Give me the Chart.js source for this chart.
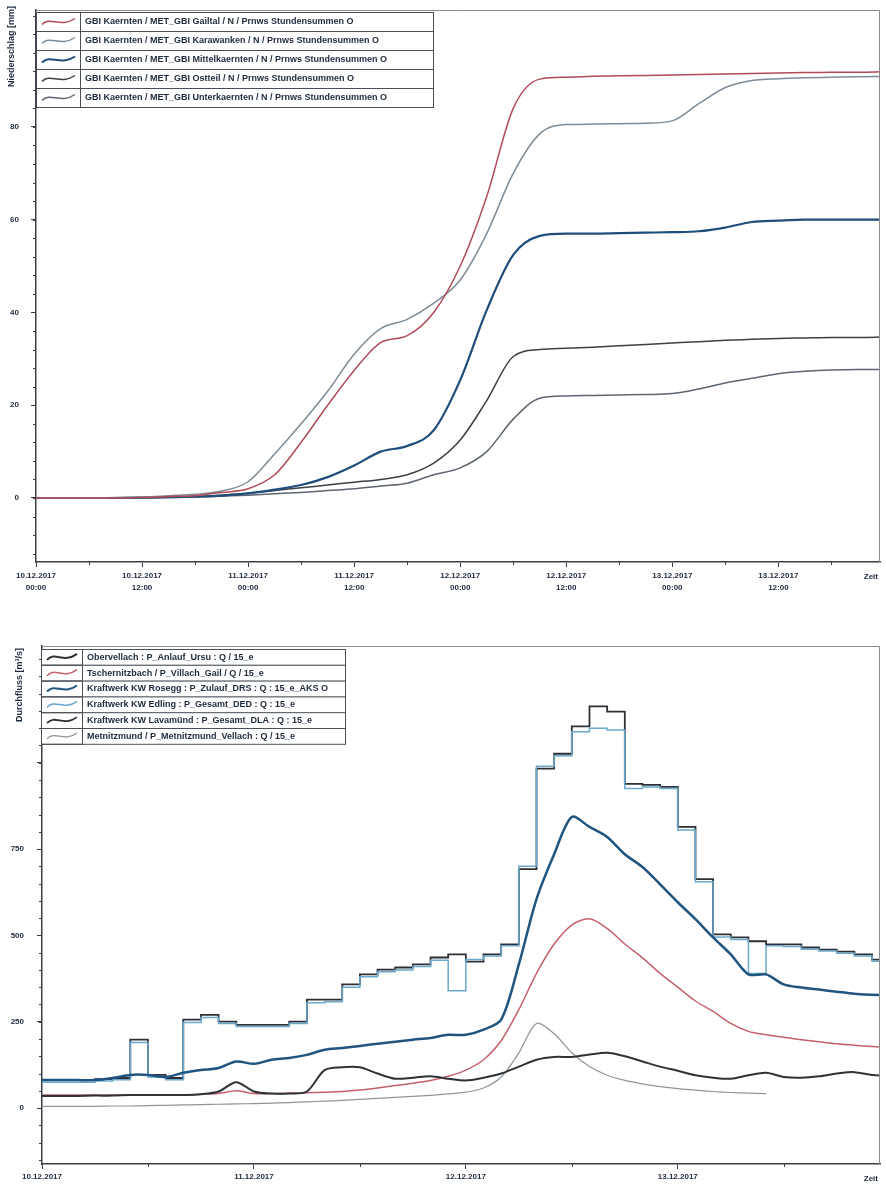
<!DOCTYPE html>
<html lang="de">
<head>
  <meta charset="UTF-8" />
  <title>Niederschlag und Durchfluss Kärnten</title>
  <script src="https://cdn.jsdelivr.net/npm/chart.js"></script>
  <style>
    body {
      margin: 0;
      background: #fff;
      font-family: 'Liberation Sans', Arial, sans-serif;
    }
    .panel {
      position: relative;
      width: 886px;
    }
    #topPanel { height: 605px; }
    #bottomPanel { height: 584px; }
  </style>
</head>
<body>
  <div class="panel" id="topPanel"><canvas id="precipChart"></canvas></div>
  <div class="panel" id="bottomPanel"><canvas id="flowChart"></canvas></div>

  <script>
    // ---- Niederschlag (kumulierte Stundensummen), Stunden ab 10.12.2017 00:00
    const precipHours = [0, 3, 6, 9, 12, 15, 18, 21, 24, 27, 30, 33, 36, 39, 42, 45, 48,
      51, 54, 57, 60, 63, 66, 69, 72, 75, 78, 81, 84, 87, 90, 93, 96];
    const gailtal = [0, 0, 0, 0, 0.1, 0.3, 0.5, 1.2, 2, 5, 12, 20, 27.5, 33.5, 35, 40, 50,
      65, 84, 90.3, 90.7, 90.9, 91, 91.1, 91.2, 91.3, 91.4, 91.5, 91.6, 91.7, 91.8, 91.8, 91.9];
    const karawanken = [0, 0, 0, 0.1, 0.2, 0.5, 0.8, 1.5, 3.5, 9.5, 16, 23, 31, 36.5, 38.5, 42, 47,
      57, 70, 78.5, 80.5, 80.6, 80.7, 80.8, 81.3, 85, 88.5, 90, 90.4, 90.6, 90.7, 90.8, 90.9];
    const mittelkaernten = [0, 0, 0, 0, 0.1, 0.2, 0.3, 0.5, 1, 1.8, 2.8, 4.5, 7, 10, 11.2, 14.6, 25.4,
      40.5, 52.4, 56.5, 57, 57, 57.1, 57.2, 57.3, 57.5, 58.3, 59.5, 59.8, 60, 60, 60, 60];
    const ostteil = [0, 0, 0, 0, 0.1, 0.2, 0.3, 0.6, 1, 1.6, 2.2, 2.8, 3.4, 4, 5, 7.5, 12.5,
      21, 30.5, 32, 32.3, 32.5, 32.8, 33.1, 33.4, 33.7, 34, 34.2, 34.4, 34.5, 34.6, 34.6, 34.7];
    const unterkaernten = [0, 0, 0, 0, 0, 0.1, 0.2, 0.4, 0.6, 0.9, 1.2, 1.6, 2, 2.6, 3.2, 5, 6.5,
      10, 17, 21.5, 22, 22.1, 22.2, 22.3, 22.5, 23.5, 24.8, 25.8, 26.8, 27.3, 27.6, 27.7, 27.7];

    const precipLabels = [
      'GBI Kaernten / MET_GBI Gailtal / N / Prnws Stundensummen O',
      'GBI Kaernten / MET_GBI Karawanken / N / Prnws Stundensummen O',
      'GBI Kaernten / MET_GBI Mittelkaernten / N / Prnws Stundensummen O',
      'GBI Kaernten / MET_GBI Ostteil / N / Prnws Stundensummen O',
      'GBI Kaernten / MET_GBI Unterkaernten / N / Prnws Stundensummen O'
    ];
    const precipYTicks = [0, 20, 40, 60, 80];
    const precipXTicks = [0, 12, 24, 36, 48, 60, 72, 84];
    const precipXTickLabels = [
      ['10.12.2017', '00:00'], ['10.12.2017', '12:00'], ['11.12.2017', '00:00'], ['11.12.2017', '12:00'],
      ['12.12.2017', '00:00'], ['12.12.2017', '12:00'], ['13.12.2017', '00:00'], ['13.12.2017', '12:00']
    ];

    // ---- Durchfluss Q, Stunden ab 10.12.2017 00:00
    const flowHours = [0, 2, 4, 6, 8, 10, 12, 14, 16, 18, 20, 22, 24, 26, 28, 30, 32, 34, 36, 38,
      40, 42, 44, 46, 48, 50, 52, 54, 56, 58, 60, 62, 64, 66, 68, 70, 72, 74, 76, 78,
      80, 82, 84, 86, 88, 90, 92, 94, 96];
    const obervellach = [35, 35, 35, 36, 36, 38, 38, 38, 38, 40, 48, 75, 48, 42, 42, 48, 110, 118, 118, 100,
      85, 88, 92, 85, 80, 88, 100, 120, 140, 148, 148, 155, 160, 150, 135, 120, 108, 95, 88, 85,
      95, 102, 90, 88, 92, 100, 104, 96, 92];
    const tschernitz = [38, 38, 38, 38, 38, 38, 38, 38, 38, 40, 42, 50, 42, 42, 43, 44, 46, 48, 52, 58,
      65, 72, 80, 92, 110, 140, 195, 285, 390, 475, 530, 548, 520, 475, 435, 390, 350, 310, 280, 245,
      222, 212, 205, 198, 192, 186, 182, 178, 175];
    const rosegg = [81, 81, 81, 81, 87, 96, 96, 90, 102, 110, 116, 135, 128, 140, 145, 154, 169, 174, 180, 186,
      192, 198, 203, 212, 212, 227, 256, 416, 605, 735, 843, 814, 785, 735, 698, 648, 596, 547, 494, 445,
      387, 387, 358, 349, 343, 337, 331, 328, 326];
    const edling = [75, 75, 75, 78, 82, 190, 90, 82, 248, 262, 245, 236, 236, 236, 245, 305, 308, 350, 380, 395,
      400, 410, 428, 340, 430, 440, 470, 700, 990, 1020, 1090, 1100, 1095, 925, 930, 925, 805, 655, 495, 488,
      390, 470, 468, 460, 455, 448, 440, 425, 420];
    const lavamuend = [81, 81, 81, 84, 87, 198, 96, 87, 256, 270, 250, 241, 241, 241, 250, 314, 314, 358, 387, 401,
      407, 416, 436, 445, 424, 445, 474, 692, 983, 1026, 1105, 1163, 1148, 939, 936, 930, 814, 663, 503, 494,
      483, 474, 474, 465, 459, 453, 445, 430, 424];
    const metnitz = [5, 5, 5, 5, 6, 6, 7, 8, 9, 10, 11, 12, 13, 14, 16, 18, 20, 22, 25, 28,
      31, 34, 37, 41, 46, 58, 90, 160, 245, 215, 160, 120, 95, 80, 70, 62, 56, 52, 48, 45,
      43, 42, null, null, null, null, null, null, null];

    const flowLabels = [
      'Obervellach : P_Anlauf_Ursu : Q / 15_e',
      'Tschernitzbach / P_Villach_Gail / Q / 15_e',
      'Kraftwerk KW Rosegg : P_Zulauf_DRS : Q : 15_e_AKS O',
      'Kraftwerk KW Edling : P_Gesamt_DED : Q : 15_e',
      'Kraftwerk KW Lavamünd : P_Gesamt_DLA : Q : 15_e',
      'Metnitzmund / P_Metnitzmund_Vellach : Q / 15_e'
    ];
    const flowYTicks = [0, 250, 500, 750, 1000];
    const flowYTickLabels = ['0', '250', '500', '750', ''];
    const flowXTicks = [0, 24, 48, 72];
    const flowXTickLabels = ['10.12.2017', '11.12.2017', '12.12.2017', '13.12.2017'];

    const INK = '#1d2a3c';
    const FONT = "'Liberation Sans', Arial, sans-serif";

    function points(xs, ys) {
      return xs.map((x, i) => ({ x: x, y: ys[i] }));
    }

    function range(from, to, step) {
      const out = [];
      for (let v = from; v <= to; v += step) out.push(v);
      return out;
    }

    // frame, minor ticks, boxed legend, rotated y title and "Zeit"
    const decor = {
      id: 'decor',
      afterDraw(chart, args, o) {
        const ctx = chart.ctx;
        const a = chart.chartArea;
        const sx = chart.scales.x, sy = chart.scales.y;
        ctx.save();

        ctx.strokeStyle = '#8c8c8c';
        ctx.lineWidth = 1;
        ctx.beginPath();
        ctx.moveTo(a.left, a.top + 0.5);
        ctx.lineTo(a.right - 0.5, a.top + 0.5);
        ctx.lineTo(a.right - 0.5, a.bottom);
        ctx.stroke();

        // minor ticks
        ctx.strokeStyle = '#3a3f47';
        ctx.lineWidth = 1;
        ctx.beginPath();
        o.minorY.forEach(v => {
          const y = Math.round(sy.getPixelForValue(v)) + 0.5;
          if (y < a.top || y > a.bottom) return;
          ctx.moveTo(a.left - 3, y);
          ctx.lineTo(a.left, y);
        });
        o.minorX.forEach(v => {
          const x = Math.round(sx.getPixelForValue(v)) + 0.5;
          if (x < a.left || x > a.right) return;
          ctx.moveTo(x, a.bottom);
          ctx.lineTo(x, a.bottom + 3);
        });
        ctx.stroke();

        // legend table
        const x0 = a.left + o.legendX, y0 = a.top + o.legendY;
        const rh = o.rowHeight, w = o.legendWidth, sw = o.swatch;
        ctx.font = 'bold 9px ' + FONT;
        ctx.textBaseline = 'middle';
        chart.data.datasets.forEach((ds, i) => {
          const y = y0 + i * rh;
          ctx.fillStyle = '#fff';
          ctx.fillRect(x0, y, w, rh);
          ctx.strokeStyle = '#4a4f57';
          ctx.lineWidth = 1;
          ctx.strokeRect(x0 + 0.5, y + 0.5, w, rh);
          ctx.strokeRect(x0 + 0.5, y + 0.5, sw, rh);
          const cy = y + rh / 2;
          ctx.strokeStyle = ds.borderColor;
          ctx.lineWidth = Math.min(ds.borderWidth, 2);
          ctx.beginPath();
          ctx.moveTo(x0 + 6, cy + 3);
          ctx.bezierCurveTo(x0 + 14, cy - 6, x0 + sw * 0.55, cy + 7, x0 + sw - 5, cy - 3);
          ctx.stroke();
          ctx.fillStyle = INK;
          ctx.fillText(ds.label, x0 + sw + 5, cy + 0.5);
        });

        // y axis title, reading upward, top aligned
        ctx.save();
        ctx.translate(o.titleX, a.top + o.titleTop);
        ctx.rotate(-Math.PI / 2);
        ctx.textAlign = 'right';
        ctx.textBaseline = 'middle';
        ctx.fillStyle = INK;
        ctx.fillText(o.yTitle, 0, 0);
        ctx.restore();

        ctx.textAlign = 'right';
        ctx.font = 'bold 8px ' + FONT;
        ctx.fillText('Zeit', a.right - 2, a.bottom + 15);
        ctx.restore();
      }
    };

    function axisOptions() {
      return {
        grid: { display: true, drawOnChartArea: false, drawTicks: true, tickLength: 5, color: '#3a3f47' },
        border: { display: true, color: '#3a3f47', width: 1.5 }
      };
    }

    // keep the plot area where the layout padding puts it
    function fixWidth(w) {
      return s => { s.width = w; s.paddingTop = 0; s.paddingBottom = 0; };
    }
    function fixHeight(h) {
      return s => { s.height = h; s.paddingLeft = 0; s.paddingRight = 0; };
    }

    new Chart(document.getElementById('precipChart'), {
      type: 'line',
      data: {
        datasets: [
          { label: precipLabels[0], data: points(precipHours, gailtal), borderColor: '#b04a58', borderWidth: 1.5 },
          { label: precipLabels[1], data: points(precipHours, karawanken), borderColor: '#7d8c99', borderWidth: 1.5 },
          { label: precipLabels[2], data: points(precipHours, mittelkaernten), borderColor: '#1f4d7c', borderWidth: 2.2 },
          { label: precipLabels[3], data: points(precipHours, ostteil), borderColor: '#3c3f44', borderWidth: 1.5 },
          { label: precipLabels[4], data: points(precipHours, unterkaernten), borderColor: '#5d6670', borderWidth: 1.5 }
        ]
      },
      options: {
        responsive: true,
        maintainAspectRatio: false,
        animation: false,
        layout: { padding: { top: 10, right: 6, left: 0, bottom: 0 } },
        elements: { point: { radius: 0 }, line: { cubicInterpolationMode: 'monotone' } },
        plugins: {
          legend: { display: false },
          tooltip: { enabled: false },
          decor: { legendX: 0, legendY: 2, rowHeight: 19, legendWidth: 397, swatch: 44,
                   titleX: 12, titleTop: -4, yTitle: 'Niederschlag [mm]',
                   minorY: range(-12, 104, 4), minorX: range(6, 90, 12) }
        },
        scales: {
          x: {
            type: 'linear', min: 0, max: 95.5,
            ...axisOptions(),
            afterBuildTicks: s => { s.ticks = precipXTicks.map(v => ({ value: v })); },
            afterFit: fixHeight(43),
            ticks: {
              autoSkip: false, maxRotation: 0, padding: 3, color: INK,
              font: { family: FONT, size: 8, weight: 'bold', lineHeight: 1.5 },
              callback: (v, i) => precipXTickLabels[i]
            }
          },
          y: {
            type: 'linear', min: -13.8, max: 105.2,
            ...axisOptions(),
            afterBuildTicks: s => { s.ticks = precipYTicks.map(v => ({ value: v })); },
            afterFit: fixWidth(36),
            ticks: { padding: 12, color: INK, font: { family: FONT, size: 8, weight: 'bold' } }
          }
        }
      },
      plugins: [decor]
    });

    new Chart(document.getElementById('flowChart'), {
      type: 'line',
      data: {
        datasets: [
          { label: flowLabels[0], data: points(flowHours, obervellach), borderColor: '#2e3338', borderWidth: 2, tension: 0.3 },
          { label: flowLabels[1], data: points(flowHours, tschernitz), borderColor: '#c5606c', borderWidth: 1.5, tension: 0.3 },
          { label: flowLabels[2], data: points(flowHours, rosegg), borderColor: '#1f5580', borderWidth: 2.5, tension: 0.3 },
          { label: flowLabels[3], data: points(flowHours, edling), borderColor: '#6aa8cc', borderWidth: 1.5, stepped: 'before' },
          { label: flowLabels[4], data: points(flowHours, lavamuend), borderColor: '#2c3036', borderWidth: 1.8, stepped: 'before' },
          { label: flowLabels[5], data: points(flowHours, metnitz), borderColor: '#8f9498', borderWidth: 1.2, tension: 0.3 }
        ]
      },
      options: {
        responsive: true,
        maintainAspectRatio: false,
        animation: false,
        layout: { padding: { top: 41, right: 6, left: 0, bottom: 0 } },
        elements: { point: { radius: 0 } },
        plugins: {
          legend: { display: false },
          tooltip: { enabled: false },
          decor: { legendX: -1, legendY: 3, rowHeight: 15.8, legendWidth: 304, swatch: 41,
                   titleX: 20, titleTop: 2, yTitle: 'Durchfluss [m³/s]',
                   minorY: range(-150, 1300, 50), minorX: range(12, 84, 24) }
        },
        scales: {
          x: {
            type: 'linear', min: 0, max: 94.9,
            ...axisOptions(),
            afterBuildTicks: s => { s.ticks = flowXTicks.map(v => ({ value: v })); },
            afterFit: fixHeight(25),
            ticks: {
              autoSkip: false, maxRotation: 0, padding: 3, color: INK,
              font: { family: FONT, size: 8, weight: 'bold' },
              callback: (v, i) => flowXTickLabels[i]
            }
          },
          y: {
            type: 'linear', min: -162, max: 1338,
            ...axisOptions(),
            afterBuildTicks: s => { s.ticks = flowYTicks.map(v => ({ value: v })); },
            afterFit: fixWidth(42),
            ticks: {
              padding: 13, color: INK, font: { family: FONT, size: 8, weight: 'bold' },
              callback: (v, i) => flowYTickLabels[i]
            }
          }
        }
      },
      plugins: [decor]
    });
  </script>
</body>
</html>
